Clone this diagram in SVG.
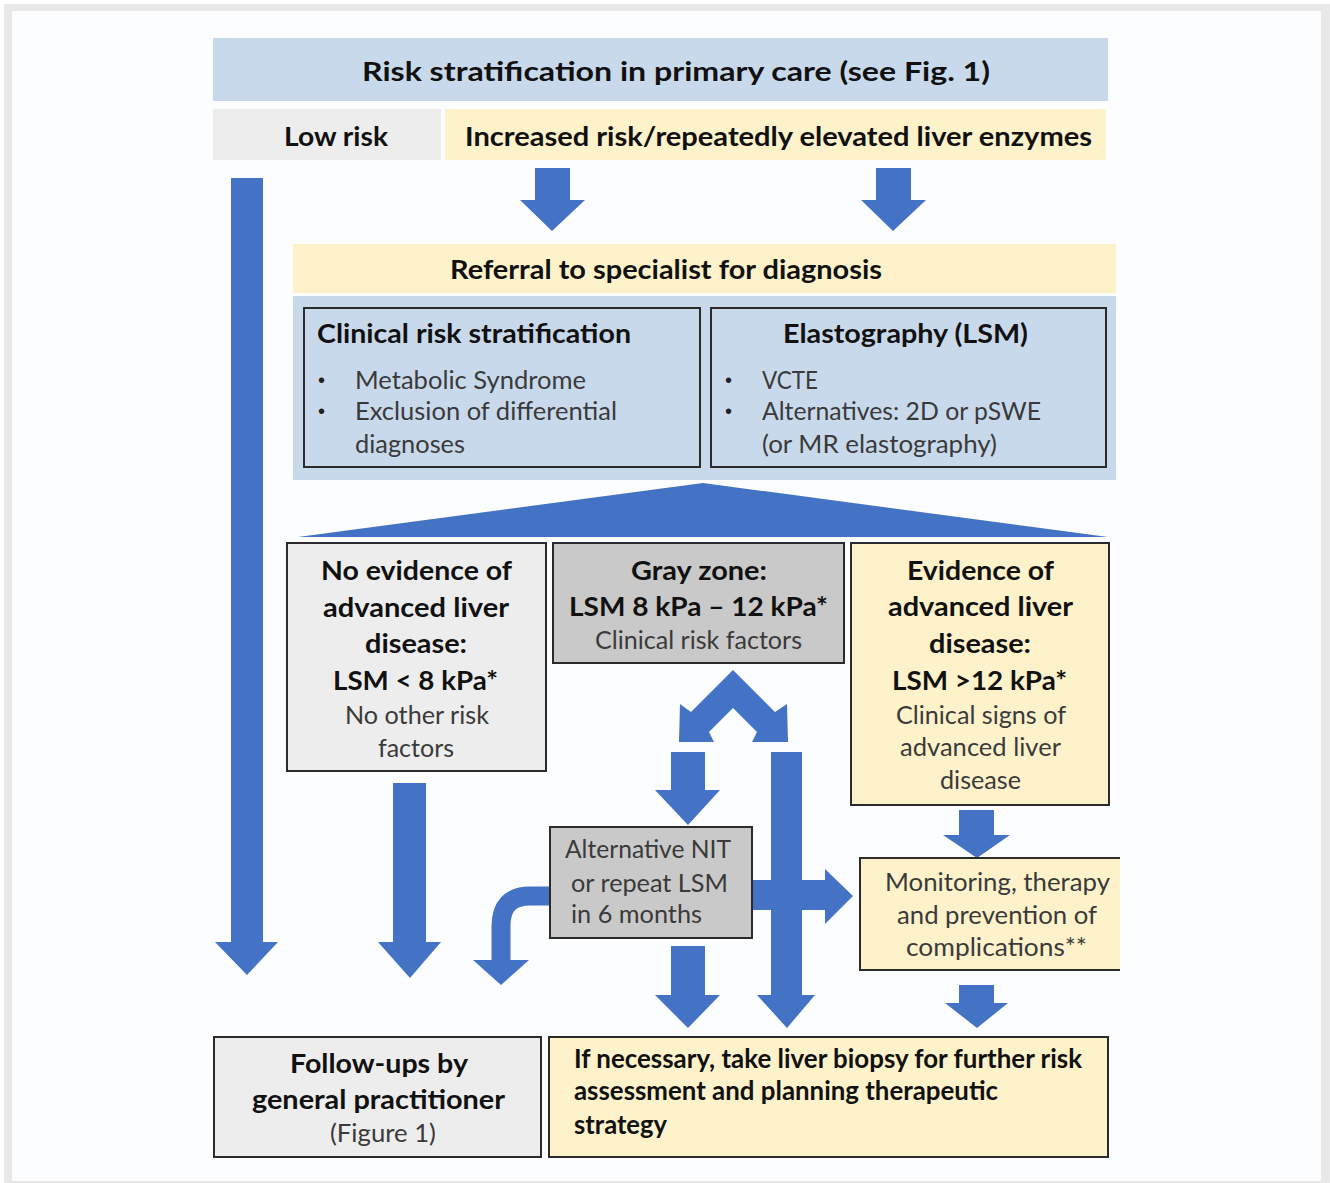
<svg xmlns="http://www.w3.org/2000/svg" width="1330" height="1183" viewBox="0 0 1330 1183">
<defs>
<style>
.t{font-family:Lato,"Liberation Sans",sans-serif;}
.b{font-weight:700;fill:#111;font-size:27px;}
.r{font-weight:400;fill:#3a3a3a;font-size:25px;}
.bul{font-family:"Liberation Sans",sans-serif;fill:#222;font-size:20px;}
.box{stroke:#2b2b2b;stroke-width:2;}
.blue{fill:#c9d9ec;}
.yel{fill:#fef2cb;}
.lg{fill:#ededed;}
.dg{fill:#c9c9c9;}
.arr{fill:#4472c4;}
</style>
</defs>
<rect x="0" y="0" width="1330" height="1183" fill="#ffffff"/>
<rect x="4" y="4" width="1326" height="1179" fill="#e8e8e8"/>
<rect x="12" y="11" width="1309" height="1170" fill="#fcfdff"/>

<g id="connectors">
  <polygon class="arr" points="231,178 263,178 263,942 278,942 247,975 215,942 231,942"/>
  <polygon class="arr" points="535,168 570,168 570,200 585,200 552,231 520,200 535,200"/>
  <polygon class="arr" points="876,168 911,168 911,200 926,200 893,231 861,200 876,200"/>
  <polygon class="arr" points="703,483 1108,537 298,537"/>
  <polygon class="arr" points="393,783 426,783 426,942 441,942 410,978 378,942 393,942"/>
  <polygon class="arr" points="733,670 775,712 787,704 788,742 752,742 757,732 733,708 709,732 714,742 679,742 680,704 691,712"/>
  <polygon class="arr" points="671,752 705,752 705,790 720,790 688,825 655,790 671,790"/>
  <polygon class="arr" points="752,880 825,880 825,869 853,896 825,924 825,910 752,910"/>
  <polygon class="arr" points="771,752 802,752 802,995 815,995 787,1028 757,995 771,995"/>
  <polygon class="arr" points="671,946 705,946 705,995 720,995 688,1028 655,995 671,995"/>
  <path d="M 550 896 L 530 896 Q 501 896 501 926 L 501 962" fill="none" stroke="#4472c4" stroke-width="19"/>
  <polygon class="arr" points="473,960 529,960 501,985"/>
  <polygon class="arr" points="959,810 994,810 994,835 1010,835 977,858 943,835 959,835"/>
  <polygon class="arr" points="959,985 994,985 994,1003 1008,1003 977,1028 945,1003 959,1003"/>
</g>

<g id="header">
  <rect x="213" y="38" width="895" height="63" class="blue"/>
  <text class="t b" x="362" y="81" font-size="28" textLength="628" lengthAdjust="spacingAndGlyphs">Risk stratification in primary care (see Fig. 1)</text>
</g>
<g id="low-risk">
  <rect x="213" y="109" width="228" height="51" class="lg"/>
  <text class="t b" x="284" y="146" textLength="104" lengthAdjust="spacingAndGlyphs">Low risk</text>
</g>
<g id="increased-risk">
  <rect x="445" y="109" width="661" height="51" class="yel"/>
  <text class="t b" x="465" y="146" textLength="627" lengthAdjust="spacingAndGlyphs">Increased risk/repeatedly elevated liver enzymes</text>
</g>
<g id="referral">
  <rect x="293" y="244" width="823" height="49" class="yel"/>
  <text class="t b" x="450" y="279" textLength="432" lengthAdjust="spacingAndGlyphs">Referral to specialist for diagnosis</text>
</g>
<g id="specialist-panel">
  <rect x="293" y="296" width="823" height="184" class="blue"/>
</g>
<g id="clinical">
  <rect x="304" y="308" width="396" height="159" class="blue box"/>
  <text class="t b" x="317" y="343" textLength="314" lengthAdjust="spacingAndGlyphs">Clinical risk stratification</text>
  <text class="bul" x="318" y="387">•</text>
  <text class="t r" x="355" y="389" textLength="231" lengthAdjust="spacingAndGlyphs">Metabolic Syndrome</text>
  <text class="bul" x="318" y="418">•</text>
  <text class="t r" x="355" y="420" textLength="262" lengthAdjust="spacingAndGlyphs">Exclusion of differential</text>
  <text class="t r" x="355" y="453" textLength="110" lengthAdjust="spacingAndGlyphs">diagnoses</text>
</g>
<g id="elastography">
  <rect x="711" y="308" width="395" height="159" class="blue box"/>
  <text class="t b" x="783" y="343" textLength="245" lengthAdjust="spacingAndGlyphs">Elastography (LSM)</text>
  <text class="bul" x="725" y="387">•</text>
  <text class="t r" x="762" y="389" textLength="56" lengthAdjust="spacingAndGlyphs">VCTE</text>
  <text class="bul" x="725" y="418">•</text>
  <text class="t r" x="762" y="420" textLength="279" lengthAdjust="spacingAndGlyphs">Alternatives: 2D or pSWE</text>
  <text class="t r" x="762" y="453" textLength="235" lengthAdjust="spacingAndGlyphs">(or MR elastography)</text>
</g>
<g id="no-evidence">
  <rect x="287" y="543" width="259" height="228" class="lg box"/>
  <text class="t b" x="321" y="580" textLength="191" lengthAdjust="spacingAndGlyphs">No evidence of</text>
  <text class="t b" x="323" y="617" textLength="186" lengthAdjust="spacingAndGlyphs">advanced liver</text>
  <text class="t b" x="365" y="653" textLength="102" lengthAdjust="spacingAndGlyphs">disease:</text>
  <text class="t b" x="333" y="690" textLength="165" lengthAdjust="spacingAndGlyphs">LSM &lt; 8 kPa*</text>
  <text class="t r" x="345" y="724" textLength="144" lengthAdjust="spacingAndGlyphs">No other risk</text>
  <text class="t r" x="378" y="757" textLength="76" lengthAdjust="spacingAndGlyphs">factors</text>
</g>
<g id="gray-zone">
  <rect x="553" y="543" width="291" height="120" class="dg box"/>
  <text class="t b" x="631" y="580" textLength="136" lengthAdjust="spacingAndGlyphs">Gray zone:</text>
  <text class="t b" x="569" y="616" textLength="259" lengthAdjust="spacingAndGlyphs">LSM 8 kPa – 12 kPa*</text>
  <text class="t r" x="595" y="649" textLength="207" lengthAdjust="spacingAndGlyphs">Clinical risk factors</text>
</g>
<g id="evidence">
  <rect x="851" y="543" width="258" height="262" class="yel box"/>
  <text class="t b" x="907" y="580" textLength="147" lengthAdjust="spacingAndGlyphs">Evidence of</text>
  <text class="t b" x="888" y="616" textLength="185" lengthAdjust="spacingAndGlyphs">advanced liver</text>
  <text class="t b" x="929" y="653" textLength="102" lengthAdjust="spacingAndGlyphs">disease:</text>
  <text class="t b" x="892" y="690" textLength="175" lengthAdjust="spacingAndGlyphs">LSM &gt;12 kPa*</text>
  <text class="t r" x="896" y="724" textLength="170" lengthAdjust="spacingAndGlyphs">Clinical signs of</text>
  <text class="t r" x="900" y="756" textLength="161" lengthAdjust="spacingAndGlyphs">advanced liver</text>
  <text class="t r" x="940" y="789" textLength="81" lengthAdjust="spacingAndGlyphs">disease</text>
</g>
<g id="alternative-nit">
  <rect x="550" y="827" width="202" height="111" class="dg box"/>
  <text class="t r" x="565" y="858" textLength="166" lengthAdjust="spacingAndGlyphs">Alternative NIT</text>
  <text class="t r" x="571" y="892" textLength="157" lengthAdjust="spacingAndGlyphs">or repeat LSM</text>
  <text class="t r" x="571" y="923" textLength="131" lengthAdjust="spacingAndGlyphs">in 6 months</text>
</g>
<g id="monitoring">
  <rect x="860" y="858" width="260" height="112" class="yel"/>
  <polyline points="1120,858 860,858 860,970 1120,970" fill="none" stroke="#2b2b2b" stroke-width="2"/>
  <text class="t r" x="885" y="891" textLength="225" lengthAdjust="spacingAndGlyphs">Monitoring, therapy</text>
  <text class="t r" x="897" y="924" textLength="200" lengthAdjust="spacingAndGlyphs">and prevention of</text>
  <text class="t r" x="906" y="956" textLength="181" lengthAdjust="spacingAndGlyphs">complications**</text>
</g>
<g id="follow-ups">
  <rect x="214" y="1037" width="327" height="120" class="lg box"/>
  <text class="t b" x="290" y="1073" textLength="178" lengthAdjust="spacingAndGlyphs">Follow-ups by</text>
  <text class="t b" x="252" y="1109" textLength="253" lengthAdjust="spacingAndGlyphs">general practitioner</text>
  <text class="t r" x="330" y="1142" textLength="106" lengthAdjust="spacingAndGlyphs">(Figure 1)</text>
</g>
<g id="biopsy">
  <rect x="549" y="1037" width="559" height="120" class="yel box"/>
  <text class="t b" x="574" y="1068" font-size="25" textLength="508" lengthAdjust="spacingAndGlyphs">If necessary, take liver biopsy for further risk</text>
  <text class="t b" x="574" y="1100" font-size="25" textLength="424" lengthAdjust="spacingAndGlyphs">assessment and planning therapeutic</text>
  <text class="t b" x="574" y="1134" font-size="25" textLength="93" lengthAdjust="spacingAndGlyphs">strategy</text>
</g>
</svg>
